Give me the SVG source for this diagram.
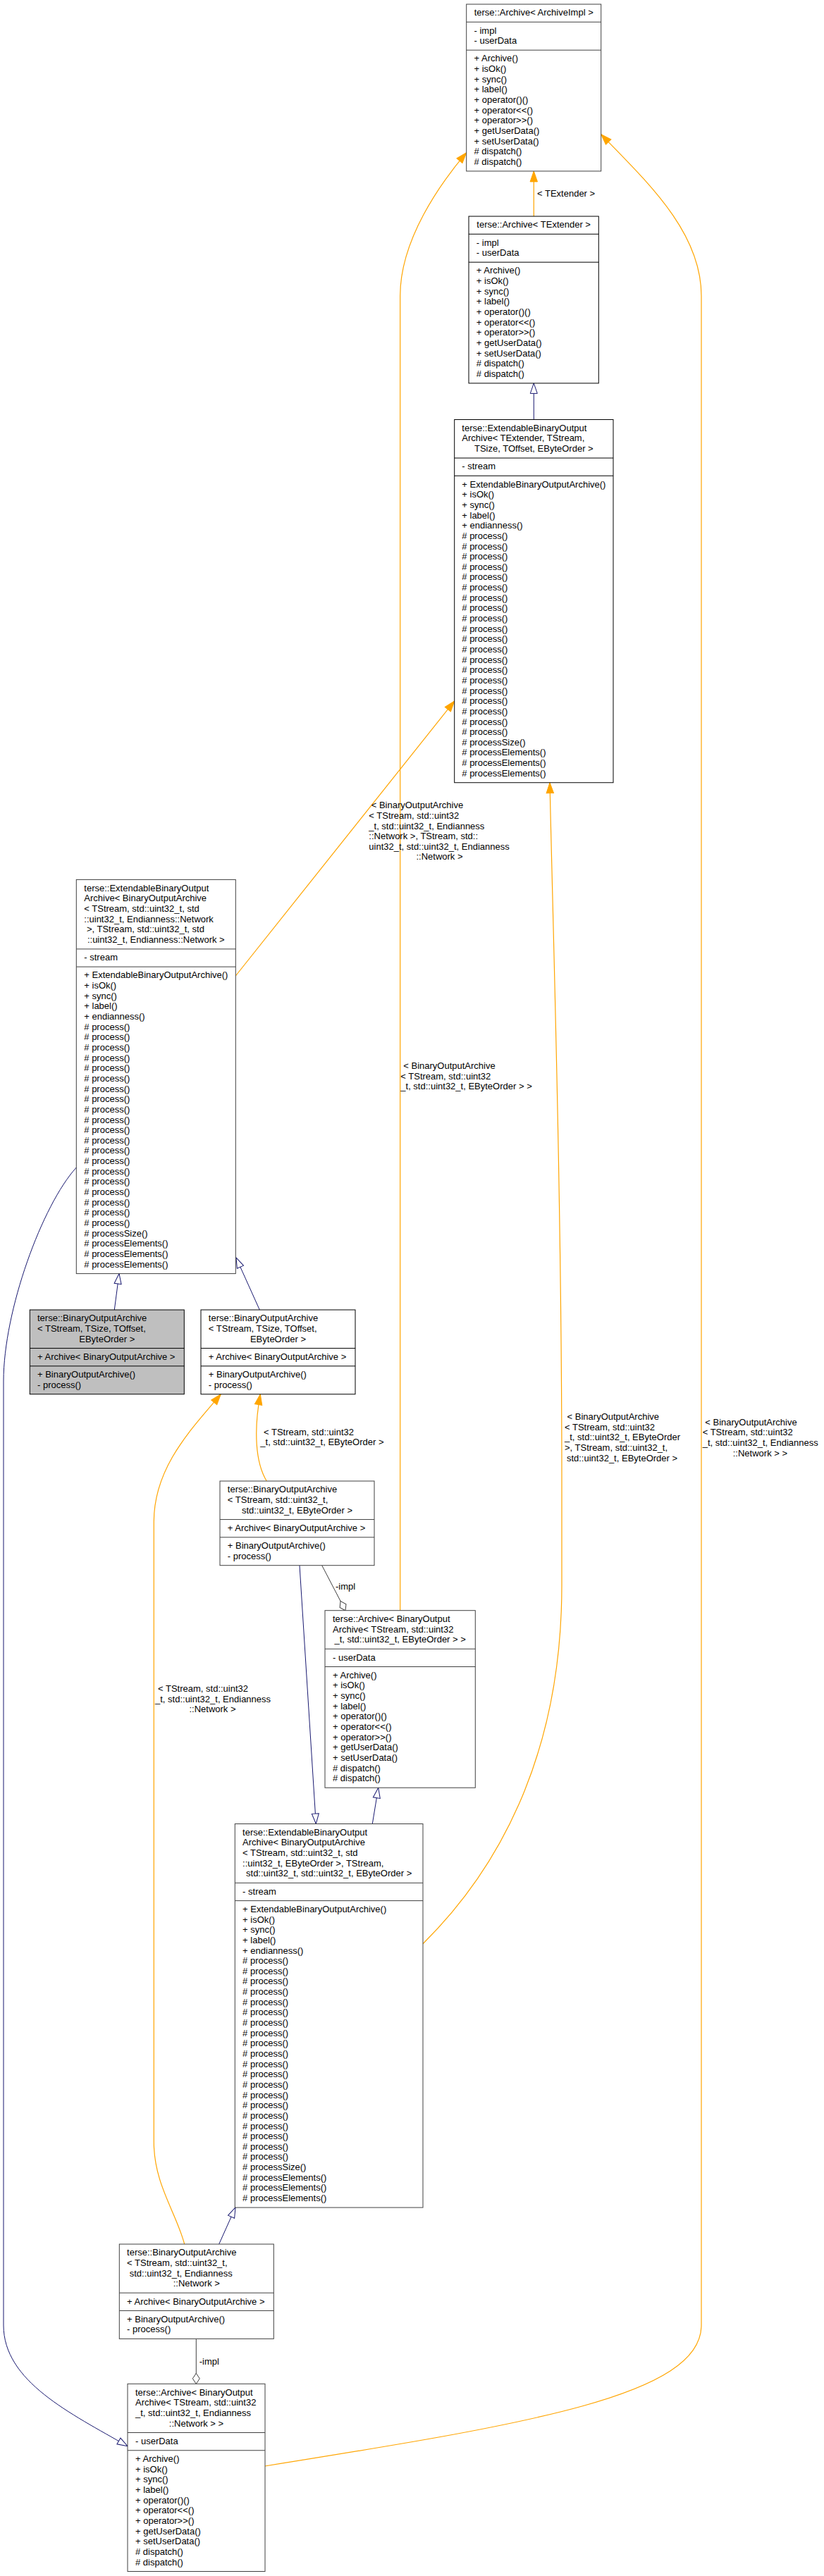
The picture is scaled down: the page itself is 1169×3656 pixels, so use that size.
<svg xmlns="http://www.w3.org/2000/svg" width="1169" height="3656" viewBox="0 0 1169 3656">
<style>
text{font-family:"Liberation Sans",Arial,Helvetica,sans-serif;font-size:13px;fill:#000}
.m{text-anchor:middle}
rect.g{fill:#fff;stroke:#404040;stroke-width:1}
rect.k{fill:#fff;stroke:#000;stroke-width:1}
rect.r{fill:#bfbfbf;stroke:#000;stroke-width:1}
path.g{fill:none;stroke:#404040;stroke-width:1}
path.k{fill:none;stroke:#000;stroke-width:1}
.eo{fill:none;stroke:#ffa500;stroke-width:1.2}
.en{fill:none;stroke:#191970;stroke-width:1}
.eg{fill:none;stroke:#404040;stroke-width:1}
</style>
<defs>
<marker id="ao" markerUnits="userSpaceOnUse" markerWidth="16" markerHeight="12" viewBox="0 0 16 12" refX="15" refY="5.5" orient="auto" overflow="visible"><path d="M0,0.3 L15,5.5 L0,10.7 z" fill="#ffa500" stroke="#ffa500"/></marker>
<marker id="an" markerUnits="userSpaceOnUse" markerWidth="16" markerHeight="12" viewBox="0 0 16 12" refX="15" refY="5.5" orient="auto" overflow="visible"><path d="M0.5,0.5 L15,5.5 L0.5,10.5 z" fill="#fff" stroke="#191970"/></marker>
<marker id="ad" markerUnits="userSpaceOnUse" markerWidth="16" markerHeight="12" viewBox="0 0 16 12" refX="15" refY="5.5" orient="auto" overflow="visible"><path d="M0,5.5 L7.5,0.5 L15,5.5 L7.5,10.5 z" fill="#fff" stroke="#404040"/></marker>
</defs>
<rect width="1169" height="3656" fill="#fff"/>

<g id="connectors">
<path class="eo" marker-end="url(#ao)" d="M757.3,307 L757.3,242.9"/>
<path class="en" marker-end="url(#an)" d="M757.3,595.5 L757.3,543.9"/>
<path class="eo" marker-end="url(#ao)" d="M334.3,1385 L644.7,995"/>
<path class="eo" marker-end="url(#ao)" d="M567.7,2285.7 L567.7,420 C567.7,340 625,260 661.7,216.7"/>
<path class="eo" marker-end="url(#ao)" d="M600,2758.7 C700,2660 797,2500 797,2250 L797,2100 C797,1700 784,1300 780,1110.75"/>
<path class="en" marker-end="url(#an)" d="M108.3,1657 C60,1710 5,1860 5,1960 L5,3300 C5,3380 100,3425 181,3471.7"/>
<path class="eo" marker-end="url(#ao)" d="M261.7,3185 C250,3140 218.3,3100 218.3,3040 L218.3,2160 C218.3,2080 275,2025 313.3,1978.7"/>
<path class="eo" marker-end="url(#ao)" d="M378.3,2102 C362,2075 360,2030 369.3,1978.7"/>
<path class="en" marker-end="url(#an)" d="M425,2221.7 L448.3,2588.5"/>
<path class="eg" marker-end="url(#ad)" d="M456.7,2221.7 L490,2285.7"/>
<path class="eo" marker-end="url(#ao)" d="M376,3500 C750,3440 995,3400 995,3300 L995,420 C995,330 920,260 852.7,190.7"/>
<path class="en" marker-end="url(#an)" d="M528.3,2588.5 L536.7,2537.3"/>
<path class="en" marker-end="url(#an)" d="M310.7,3185 L334,3133"/>
<path class="eg" marker-end="url(#ad)" d="M278.3,3319.4 L278.3,3383.3"/>
<path class="en" marker-end="url(#an)" d="M162.3,1859 L169,1807.6"/>
<path class="en" marker-end="url(#an)" d="M368.3,1859 L335,1785"/>

<text x="762" y="278.8">&lt; TExtender &gt;</text>
<text x="526.7" y="1147.2">&lt; BinaryOutputArchive</text>
<text x="523.3" y="1161.85">&lt; TStream, std::uint32</text>
<text x="523.3" y="1176.5">_t, std::uint32_t, Endianness</text>
<text x="523.3" y="1191.15">::Network &gt;, TStream, std::</text>
<text x="523.3" y="1205.8">uint32_t, std::uint32_t, Endianness</text>
<text class="m" x="623.5" y="1220.45">::Network &gt;</text>
<text x="572.3" y="1517">&lt; BinaryOutputArchive</text>
<text x="568.3" y="1531.65">&lt; TStream, std::uint32</text>
<text x="568.3" y="1546.3">_t, std::uint32_t, EByteOrder &gt; &gt;</text>
<text x="804.6" y="2015.1">&lt; BinaryOutputArchive</text>
<text x="801" y="2029.75">&lt; TStream, std::uint32</text>
<text x="801" y="2044.4">_t, std::uint32_t, EByteOrder</text>
<text x="801" y="2059.05">&gt;, TStream, std::uint32_t,</text>
<text class="m" x="882.5" y="2073.7">std::uint32_t, EByteOrder &gt;</text>
<text x="224" y="2401">&lt; TStream, std::uint32</text>
<text x="220" y="2415.65">_t, std::uint32_t, Endianness</text>
<text class="m" x="301.5" y="2430.3">::Network &gt;</text>
<text x="374" y="2036.8">&lt; TStream, std::uint32</text>
<text x="369.3" y="2051.45">_t, std::uint32_t, EByteOrder &gt;</text>
<text x="476" y="2256">-impl</text>
<text x="1000.3" y="2022.6">&lt; BinaryOutputArchive</text>
<text x="996.7" y="2037.25">&lt; TStream, std::uint32</text>
<text x="996.7" y="2051.9">_t, std::uint32_t, Endianness</text>
<text class="m" x="1078.4" y="2066.55">::Network &gt; &gt;</text>
<text x="282.7" y="3355.5">-impl</text>
</g>

<g id="node1">
<rect class="g" x="661.7" y="6" width="191" height="236.9"/>
<path class="g" d="M661.7,31.25H852.7M661.7,71.15H852.7"/>
<text class="m" x="757.2" y="22.3">terse::Archive&lt; ArchiveImpl &gt;</text>
<text x="672.5" y="47.55"><tspan x="672.5">- impl</tspan><tspan x="672.5" dy="14.65">- userData</tspan></text>
<text x="672.5" y="87.45"><tspan x="672.5">+ Archive()</tspan><tspan x="672.5" dy="14.65">+ isOk()</tspan><tspan x="672.5" dy="14.65">+ sync()</tspan><tspan x="672.5" dy="14.65">+ label()</tspan><tspan x="672.5" dy="14.65">+ operator()()</tspan><tspan x="672.5" dy="14.65">+ operator&lt;&lt;()</tspan><tspan x="672.5" dy="14.65">+ operator&gt;&gt;()</tspan><tspan x="672.5" dy="14.65">+ getUserData()</tspan><tspan x="672.5" dy="14.65">+ setUserData()</tspan><tspan x="672.5" dy="14.65"># dispatch()</tspan><tspan x="672.5" dy="14.65"># dispatch()</tspan></text>
</g>

<g id="node2">
<rect class="k" x="665" y="307" width="184.3" height="236.9"/>
<path class="k" d="M665,332.25H849.3M665,372.15H849.3"/>
<text class="m" x="757.15" y="323.3">terse::Archive&lt; TExtender &gt;</text>
<text x="675.8" y="348.55"><tspan x="675.8">- impl</tspan><tspan x="675.8" dy="14.65">- userData</tspan></text>
<text x="675.8" y="388.45"><tspan x="675.8">+ Archive()</tspan><tspan x="675.8" dy="14.65">+ isOk()</tspan><tspan x="675.8" dy="14.65">+ sync()</tspan><tspan x="675.8" dy="14.65">+ label()</tspan><tspan x="675.8" dy="14.65">+ operator()()</tspan><tspan x="675.8" dy="14.65">+ operator&lt;&lt;()</tspan><tspan x="675.8" dy="14.65">+ operator&gt;&gt;()</tspan><tspan x="675.8" dy="14.65">+ getUserData()</tspan><tspan x="675.8" dy="14.65">+ setUserData()</tspan><tspan x="675.8" dy="14.65"># dispatch()</tspan><tspan x="675.8" dy="14.65"># dispatch()</tspan></text>
</g>

<g id="node3">
<rect class="k" x="644.7" y="595.5" width="225.3" height="515.25"/>
<path class="k" d="M644.7,650.05H870M644.7,675.3H870"/>
<text x="655.3" y="611.8">terse::ExtendableBinaryOutput</text>
<text x="655.3" y="626.45">Archive&lt; TExtender, TStream,</text>
<text class="m" x="757.35" y="641.1">TSize, TOffset, EByteOrder &gt;</text>
<text x="655.3" y="666.35">- stream</text>
<text x="655.3" y="691.6"><tspan x="655.3">+ ExtendableBinaryOutputArchive()</tspan><tspan x="655.3" dy="14.65">+ isOk()</tspan><tspan x="655.3" dy="14.65">+ sync()</tspan><tspan x="655.3" dy="14.65">+ label()</tspan><tspan x="655.3" dy="14.65">+ endianness()</tspan><tspan x="655.3" dy="14.65"># process()</tspan><tspan x="655.3" dy="14.65"># process()</tspan><tspan x="655.3" dy="14.65"># process()</tspan><tspan x="655.3" dy="14.65"># process()</tspan><tspan x="655.3" dy="14.65"># process()</tspan><tspan x="655.3" dy="14.65"># process()</tspan><tspan x="655.3" dy="14.65"># process()</tspan><tspan x="655.3" dy="14.65"># process()</tspan><tspan x="655.3" dy="14.65"># process()</tspan><tspan x="655.3" dy="14.65"># process()</tspan><tspan x="655.3" dy="14.65"># process()</tspan><tspan x="655.3" dy="14.65"># process()</tspan><tspan x="655.3" dy="14.65"># process()</tspan><tspan x="655.3" dy="14.65"># process()</tspan><tspan x="655.3" dy="14.65"># process()</tspan><tspan x="655.3" dy="14.65"># process()</tspan><tspan x="655.3" dy="14.65"># process()</tspan><tspan x="655.3" dy="14.65"># process()</tspan><tspan x="655.3" dy="14.65"># process()</tspan><tspan x="655.3" dy="14.65"># process()</tspan><tspan x="655.3" dy="14.65"># processSize()</tspan><tspan x="655.3" dy="14.65"># processElements()</tspan><tspan x="655.3" dy="14.65"># processElements()</tspan><tspan x="655.3" dy="14.65"># processElements()</tspan></text>
</g>

<g id="node4">
<rect class="g" x="108.3" y="1248.4" width="226" height="559.2"/>
<path class="g" d="M108.3,1346.9H334.3M108.3,1372.15H334.3"/>
<text x="119.3" y="1264.7">terse::ExtendableBinaryOutput</text>
<text x="119.3" y="1279.35">Archive&lt; BinaryOutputArchive</text>
<text x="119.3" y="1294">&lt; TStream, std::uint32_t, std</text>
<text x="119.3" y="1308.65">::uint32_t, Endianness::Network</text>
<text x="122.9" y="1323.3">&gt;, TStream, std::uint32_t, std</text>
<text class="m" x="221.3" y="1337.95">::uint32_t, Endianness::Network &gt;</text>
<text x="119.3" y="1363.2">- stream</text>
<text x="119.3" y="1388.45"><tspan x="119.3">+ ExtendableBinaryOutputArchive()</tspan><tspan x="119.3" dy="14.65">+ isOk()</tspan><tspan x="119.3" dy="14.65">+ sync()</tspan><tspan x="119.3" dy="14.65">+ label()</tspan><tspan x="119.3" dy="14.65">+ endianness()</tspan><tspan x="119.3" dy="14.65"># process()</tspan><tspan x="119.3" dy="14.65"># process()</tspan><tspan x="119.3" dy="14.65"># process()</tspan><tspan x="119.3" dy="14.65"># process()</tspan><tspan x="119.3" dy="14.65"># process()</tspan><tspan x="119.3" dy="14.65"># process()</tspan><tspan x="119.3" dy="14.65"># process()</tspan><tspan x="119.3" dy="14.65"># process()</tspan><tspan x="119.3" dy="14.65"># process()</tspan><tspan x="119.3" dy="14.65"># process()</tspan><tspan x="119.3" dy="14.65"># process()</tspan><tspan x="119.3" dy="14.65"># process()</tspan><tspan x="119.3" dy="14.65"># process()</tspan><tspan x="119.3" dy="14.65"># process()</tspan><tspan x="119.3" dy="14.65"># process()</tspan><tspan x="119.3" dy="14.65"># process()</tspan><tspan x="119.3" dy="14.65"># process()</tspan><tspan x="119.3" dy="14.65"># process()</tspan><tspan x="119.3" dy="14.65"># process()</tspan><tspan x="119.3" dy="14.65"># process()</tspan><tspan x="119.3" dy="14.65"># processSize()</tspan><tspan x="119.3" dy="14.65"># processElements()</tspan><tspan x="119.3" dy="14.65"># processElements()</tspan><tspan x="119.3" dy="14.65"># processElements()</tspan></text>
</g>

<g id="node5">
<rect class="r" x="42.3" y="1859" width="219" height="119.7"/>
<path class="k" d="M42.3,1913.55H261.3M42.3,1938.8H261.3"/>
<text x="53" y="1875.3">terse::BinaryOutputArchive</text>
<text x="53" y="1889.95">&lt; TStream, TSize, TOffset,</text>
<text class="m" x="151.8" y="1904.6">EByteOrder &gt;</text>
<text x="53" y="1929.85">+ Archive&lt; BinaryOutputArchive &gt;</text>
<text x="53" y="1955.1"><tspan x="53">+ BinaryOutputArchive()</tspan><tspan x="53" dy="14.65">- process()</tspan></text>
</g>

<g id="node6">
<rect class="k" x="285" y="1859" width="219" height="119.7"/>
<path class="k" d="M285,1913.55H504M285,1938.8H504"/>
<text x="295.8" y="1875.3">terse::BinaryOutputArchive</text>
<text x="295.8" y="1889.95">&lt; TStream, TSize, TOffset,</text>
<text class="m" x="394.5" y="1904.6">EByteOrder &gt;</text>
<text x="295.8" y="1929.85">+ Archive&lt; BinaryOutputArchive &gt;</text>
<text x="295.8" y="1955.1"><tspan x="295.8">+ BinaryOutputArchive()</tspan><tspan x="295.8" dy="14.65">- process()</tspan></text>
</g>

<g id="node7">
<rect class="g" x="312" y="2102" width="219" height="119.7"/>
<path class="g" d="M312,2156.55H531M312,2181.8H531"/>
<text x="322.8" y="2118.3">terse::BinaryOutputArchive</text>
<text x="322.8" y="2132.95">&lt; TStream, std::uint32_t,</text>
<text class="m" x="421.5" y="2147.6">std::uint32_t, EByteOrder &gt;</text>
<text x="322.8" y="2172.85">+ Archive&lt; BinaryOutputArchive &gt;</text>
<text x="322.8" y="2198.1"><tspan x="322.8">+ BinaryOutputArchive()</tspan><tspan x="322.8" dy="14.65">- process()</tspan></text>
</g>

<g id="node8">
<rect class="g" x="461" y="2285.7" width="213.3" height="251.55"/>
<path class="g" d="M461,2340.25H674.3M461,2365.5H674.3"/>
<text x="472" y="2302">terse::Archive&lt; BinaryOutput</text>
<text x="472" y="2316.65">Archive&lt; TStream, std::uint32</text>
<text class="m" x="567.65" y="2331.3">_t, std::uint32_t, EByteOrder &gt; &gt;</text>
<text x="472" y="2356.55">- userData</text>
<text x="472" y="2381.8"><tspan x="472">+ Archive()</tspan><tspan x="472" dy="14.65">+ isOk()</tspan><tspan x="472" dy="14.65">+ sync()</tspan><tspan x="472" dy="14.65">+ label()</tspan><tspan x="472" dy="14.65">+ operator()()</tspan><tspan x="472" dy="14.65">+ operator&lt;&lt;()</tspan><tspan x="472" dy="14.65">+ operator&gt;&gt;()</tspan><tspan x="472" dy="14.65">+ getUserData()</tspan><tspan x="472" dy="14.65">+ setUserData()</tspan><tspan x="472" dy="14.65"># dispatch()</tspan><tspan x="472" dy="14.65"># dispatch()</tspan></text>
</g>

<g id="node9">
<rect class="g" x="333.3" y="2588.5" width="266.7" height="544.55"/>
<path class="g" d="M333.3,2672.35H600M333.3,2697.6H600"/>
<text x="344.1" y="2604.8">terse::ExtendableBinaryOutput</text>
<text x="344.1" y="2619.45">Archive&lt; BinaryOutputArchive</text>
<text x="344.1" y="2634.1">&lt; TStream, std::uint32_t, std</text>
<text x="344.1" y="2648.75">::uint32_t, EByteOrder &gt;, TStream,</text>
<text class="m" x="466.65" y="2663.4">std::uint32_t, std::uint32_t, EByteOrder &gt;</text>
<text x="344.1" y="2688.65">- stream</text>
<text x="344.1" y="2713.9"><tspan x="344.1">+ ExtendableBinaryOutputArchive()</tspan><tspan x="344.1" dy="14.65">+ isOk()</tspan><tspan x="344.1" dy="14.65">+ sync()</tspan><tspan x="344.1" dy="14.65">+ label()</tspan><tspan x="344.1" dy="14.65">+ endianness()</tspan><tspan x="344.1" dy="14.65"># process()</tspan><tspan x="344.1" dy="14.65"># process()</tspan><tspan x="344.1" dy="14.65"># process()</tspan><tspan x="344.1" dy="14.65"># process()</tspan><tspan x="344.1" dy="14.65"># process()</tspan><tspan x="344.1" dy="14.65"># process()</tspan><tspan x="344.1" dy="14.65"># process()</tspan><tspan x="344.1" dy="14.65"># process()</tspan><tspan x="344.1" dy="14.65"># process()</tspan><tspan x="344.1" dy="14.65"># process()</tspan><tspan x="344.1" dy="14.65"># process()</tspan><tspan x="344.1" dy="14.65"># process()</tspan><tspan x="344.1" dy="14.65"># process()</tspan><tspan x="344.1" dy="14.65"># process()</tspan><tspan x="344.1" dy="14.65"># process()</tspan><tspan x="344.1" dy="14.65"># process()</tspan><tspan x="344.1" dy="14.65"># process()</tspan><tspan x="344.1" dy="14.65"># process()</tspan><tspan x="344.1" dy="14.65"># process()</tspan><tspan x="344.1" dy="14.65"># process()</tspan><tspan x="344.1" dy="14.65"># processSize()</tspan><tspan x="344.1" dy="14.65"># processElements()</tspan><tspan x="344.1" dy="14.65"># processElements()</tspan><tspan x="344.1" dy="14.65"># processElements()</tspan></text>
</g>

<g id="node10">
<rect class="g" x="169.3" y="3185" width="219" height="134.35"/>
<path class="g" d="M169.3,3254.2H388.3M169.3,3279.45H388.3"/>
<text x="180.1" y="3201.3">terse::BinaryOutputArchive</text>
<text x="180.1" y="3215.95">&lt; TStream, std::uint32_t,</text>
<text x="183.7" y="3230.6">std::uint32_t, Endianness</text>
<text class="m" x="278.8" y="3245.25">::Network &gt;</text>
<text x="180.1" y="3270.5">+ Archive&lt; BinaryOutputArchive &gt;</text>
<text x="180.1" y="3295.75"><tspan x="180.1">+ BinaryOutputArchive()</tspan><tspan x="180.1" dy="14.65">- process()</tspan></text>
</g>

<g id="node11">
<rect class="g" x="181" y="3383.3" width="195" height="266.2"/>
<path class="g" d="M181,3452.5H376M181,3477.75H376"/>
<text x="192" y="3399.6">terse::Archive&lt; BinaryOutput</text>
<text x="192" y="3414.25">Archive&lt; TStream, std::uint32</text>
<text x="192" y="3428.9">_t, std::uint32_t, Endianness</text>
<text class="m" x="278.5" y="3443.55">::Network &gt; &gt;</text>
<text x="192" y="3468.8">- userData</text>
<text x="192" y="3494.05"><tspan x="192">+ Archive()</tspan><tspan x="192" dy="14.65">+ isOk()</tspan><tspan x="192" dy="14.65">+ sync()</tspan><tspan x="192" dy="14.65">+ label()</tspan><tspan x="192" dy="14.65">+ operator()()</tspan><tspan x="192" dy="14.65">+ operator&lt;&lt;()</tspan><tspan x="192" dy="14.65">+ operator&gt;&gt;()</tspan><tspan x="192" dy="14.65">+ getUserData()</tspan><tspan x="192" dy="14.65">+ setUserData()</tspan><tspan x="192" dy="14.65"># dispatch()</tspan><tspan x="192" dy="14.65"># dispatch()</tspan></text>
</g>
</svg>
